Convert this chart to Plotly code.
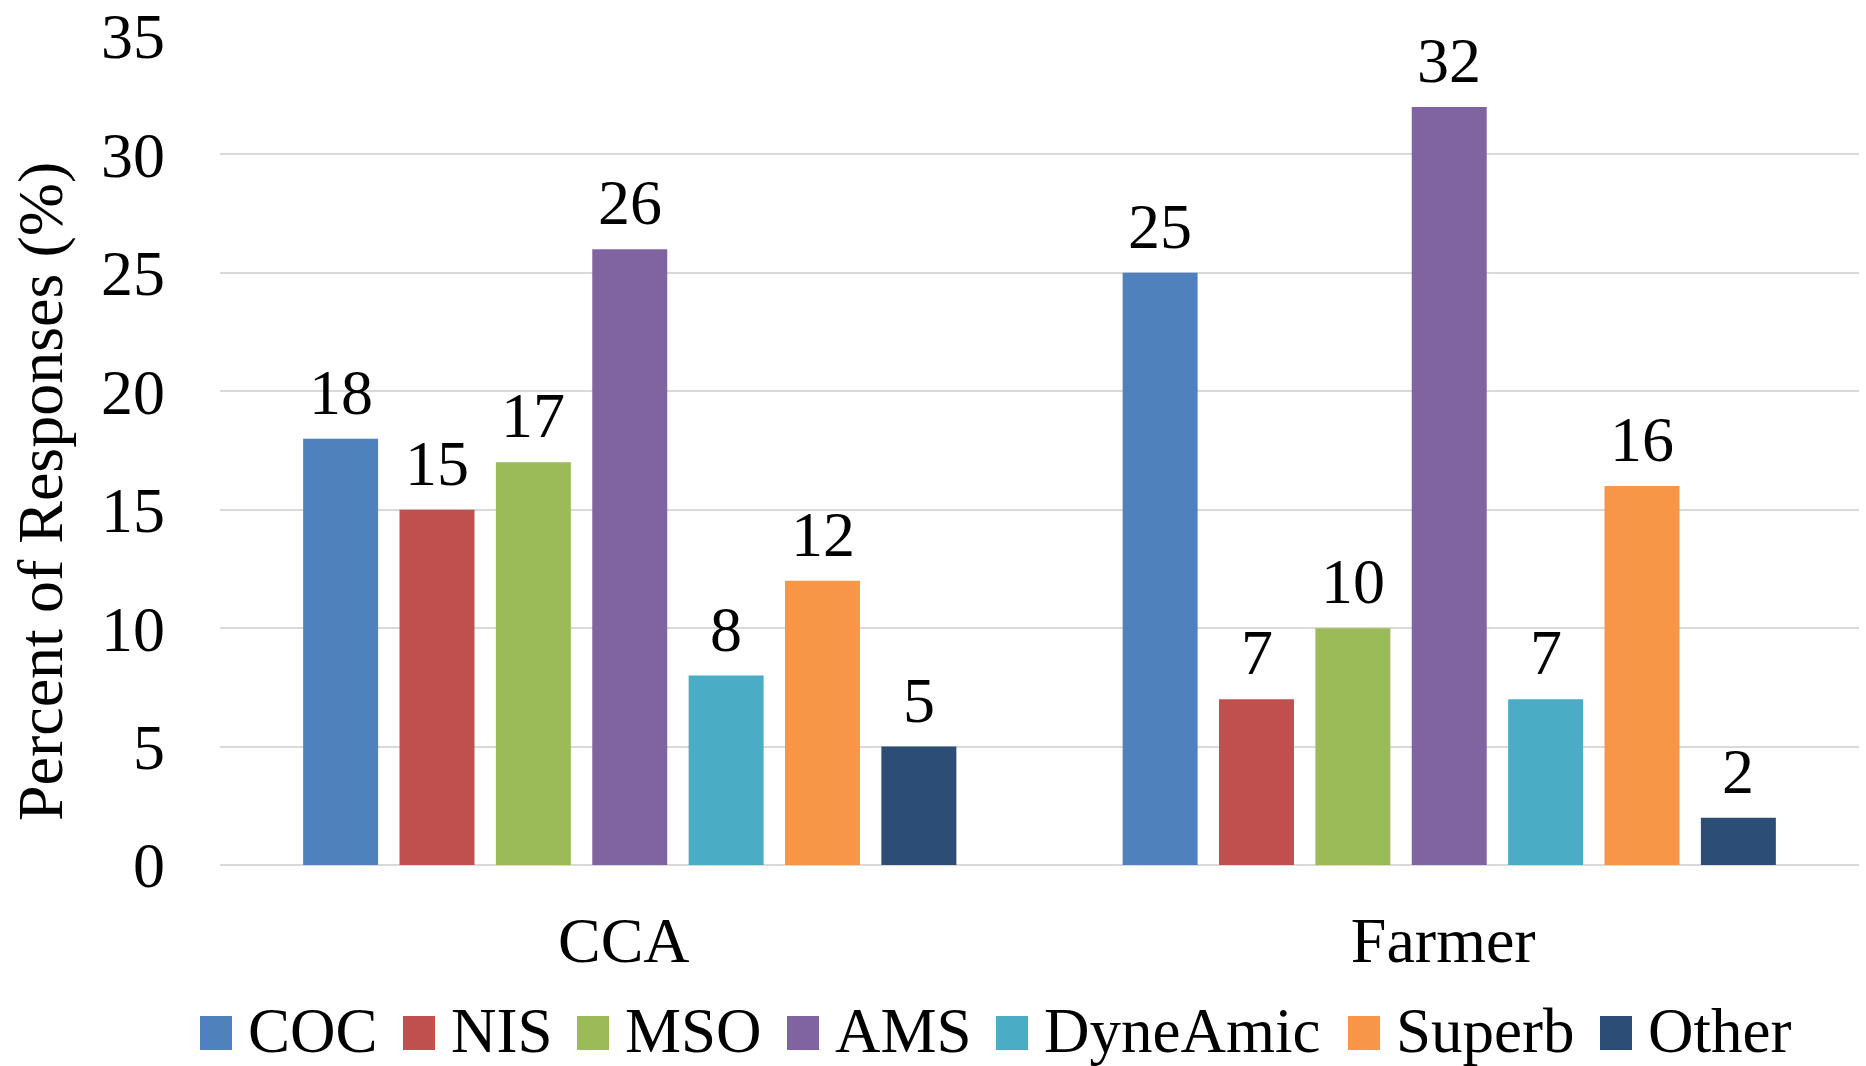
import plotly.graph_objects as go

groups = ["CCA", "Farmer"]
series = ["COC", "NIS", "MSO", "AMS", "DyneAmic", "Superb", "Other"]
values = {
    "COC": [18, 25],
    "NIS": [15, 7],
    "MSO": [17, 10],
    "AMS": [26, 32],
    "DyneAmic": [8, 7],
    "Superb": [12, 16],
    "Other": [5, 2],
}
colors = ["#4F81BD", "#C0504D", "#9BBB59", "#8064A2", "#4BACC6", "#F79646", "#2C4D75"]
yticks = [0, 5, 10, 15, 20, 25, 30, 35]

FONT = "Liberation Serif, Times New Roman, serif"
FS = 64
FS_LEG = 63
W, H = 1866, 1066
ML, MR, MT, MB = 220, 7, 36, 201
PW, PH = W - ML - MR, H - MT - MB

step = 0.1176
bw = 0.0915


def px_x(p):
    return (p - ML) / PW


def px_y(p):
    return (H - MB - p) / PH


# manual legend layout (pixel positions of each entry's swatch)
legend_swatch_x = [200, 403, 577, 787, 996, 1348, 1600]
SW = 32
LEG_Y0, LEG_Y1 = 1016, 1050

fig = go.Figure()
annotations = []
shapes = []
n = len(series)
for si, s in enumerate(series):
    xs = [gi + (si - (n - 1) / 2) * step for gi in range(len(groups))]
    fig.add_trace(go.Bar(
        x=xs, y=values[s], width=bw, name=s,
        marker=dict(color=colors[si], line=dict(width=0)),
        hoverinfo="name+y", showlegend=False,
    ))
    for x, v in zip(xs, values[s]):
        annotations.append(dict(
            x=x, y=v, xref="x", yref="y", text=str(v), showarrow=False,
            yanchor="bottom", xanchor="center", yshift=9,
            font=dict(family=FONT, size=FS, color="black"),
        ))
    lx = legend_swatch_x[si]
    shapes.append(dict(
        type="rect", xref="paper", yref="paper",
        x0=px_x(lx), x1=px_x(lx + SW), y0=px_y(LEG_Y1), y1=px_y(LEG_Y0),
        fillcolor=colors[si], line=dict(width=0),
    ))
    annotations.append(dict(
        text=s, showarrow=False, xref="paper", yref="paper",
        x=px_x(lx + SW + 14), y=px_y((LEG_Y0 + LEG_Y1) / 2 - 2),
        xanchor="left", yanchor="middle",
        font=dict(family=FONT, size=FS_LEG, color="black"),
    ))

annotations.append(dict(
    text="Percent of Responses (%)", textangle=-90, showarrow=False,
    xref="paper", yref="paper", x=px_x(40), y=px_y(492),
    xanchor="center", yanchor="middle",
    font=dict(family=FONT, size=64, color="black"),
))

fig.update_layout(
    width=W, height=H,
    margin=dict(l=ML, r=MR, t=MT, b=MB, autoexpand=False),
    paper_bgcolor="white", plot_bgcolor="white",
    barmode="overlay",
    font=dict(family=FONT, size=FS, color="black"),
    showlegend=False,
    annotations=annotations,
    shapes=shapes,
)
fig.update_xaxes(
    range=[-0.5, 1.5], tickvals=list(range(len(groups))), ticktext=groups,
    showgrid=False, zeroline=False, showline=False, ticks="",
    ticklabelstandoff=32, ticklabelshift=-6, automargin=False, ticklabeloverflow="allow",
    tickfont=dict(family=FONT, size=FS, color="black"),
)
fig.update_yaxes(
    range=[0, 35], tickvals=yticks, showgrid=True, gridcolor="#D9D9D9", gridwidth=2,
    zeroline=True, zerolinecolor="#D9D9D9", zerolinewidth=2, showline=False, ticks="",
    ticklabelstandoff=54, automargin=False, ticklabeloverflow="allow",
    tickfont=dict(family=FONT, size=FS, color="black"),
)

fig.write_html(
    "out.html",
    config={"displayModeBar": False},
    post_script="document.body.style.margin='0';",
)
